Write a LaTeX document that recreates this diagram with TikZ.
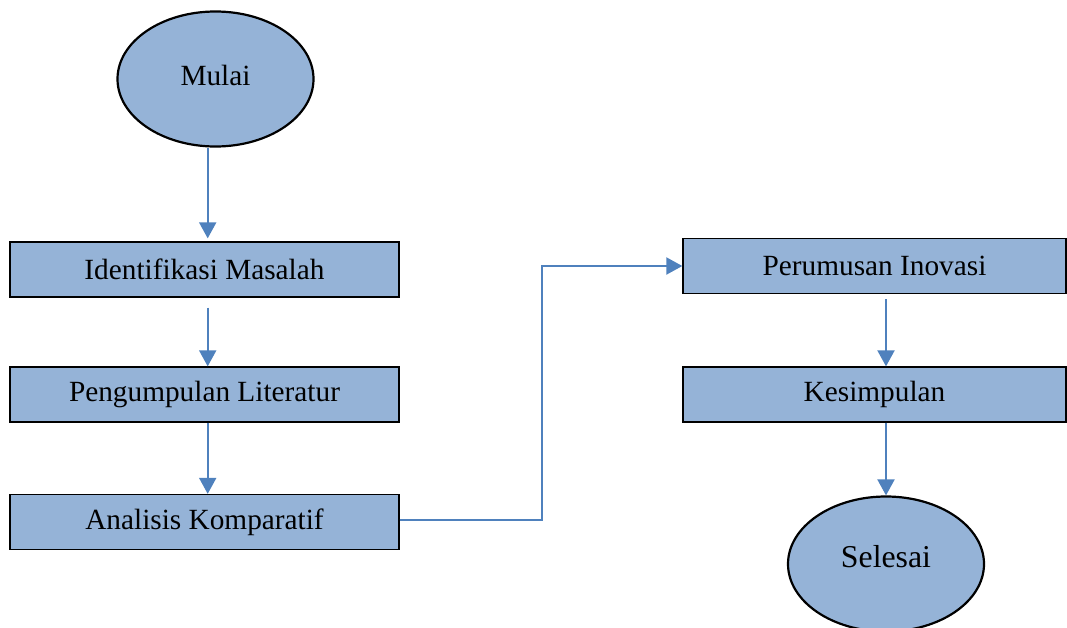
\documentclass[tikz,border=0pt]{standalone}
\usepackage{fontspec}
\setmainfont{Liberation Serif}
\usetikzlibrary{arrows.meta,shapes.geometric,calc}
\definecolor{boxfill}{HTML}{95B3D7}
\definecolor{arrowblue}{HTML}{4F81BD}
\tikzset{
  stepbox/.style={draw=black, line width=1.3pt, fill=boxfill, rectangle, minimum height=55pt, inner sep=0pt, font=\fontsize{29.3}{34}\selectfont},
  termnode/.style={draw=black, line width=2.2pt, fill=boxfill, ellipse, minimum width=196pt, minimum height=135pt, inner sep=0pt},
  flow/.style={draw=arrowblue, line width=2pt, -{Triangle[length=16pt,width=17pt]}},
}
\begin{document}
\begin{tikzpicture}[x=1pt,y=-1pt]
\useasboundingbox (0,0) rectangle (1067,627);
\node[termnode] (mulai) at (215.5,79) {};
\node[font=\fontsize{29.3}{34}\selectfont] (mulait) at (215.5,75) {Mulai};
\node[stepbox, minimum width=389pt] (ident) at (204.5,269.5) {Identifikasi Masalah};
\node[stepbox, minimum width=389pt] (kump) at (204.5,394.5) {Pengumpulan Literatur};
\node[stepbox, minimum width=389pt] (anal) at (204.5,522) {Analisis Komparatif};
\node[stepbox, minimum width=383pt] (rumus) at (874.5,266) {Perumusan Inovasi};
\node[stepbox, minimum width=383pt] (simp) at (874.5,394.5) {Kesimpulan};
\node[termnode] (selesai) at (886,564) {};
\node[font=\fontsize{31.8}{36}\selectfont] (selesait) at (886,557) {Selesai};
\coordinate (lx) at (207.7,0);
\coordinate (bx) at (542,400);
\draw[flow, shorten >=3pt] (mulai.south -| lx) -- (ident.north -| lx);
\draw[flow, shorten <=10pt] (ident.south -| lx) -- (kump.north -| lx);
\draw[flow] (kump.south -| lx) -- (anal.north -| lx);
\draw[flow] ([yshift=2pt]anal.east) -| (bx) |- (rumus.west);
\draw[flow, shorten <=5pt] (rumus.south -| selesai.north) -- (simp.north -| selesai.north);
\draw[flow] (simp.south -| selesai.north) -- (selesai.north);
\end{tikzpicture}
\end{document}
